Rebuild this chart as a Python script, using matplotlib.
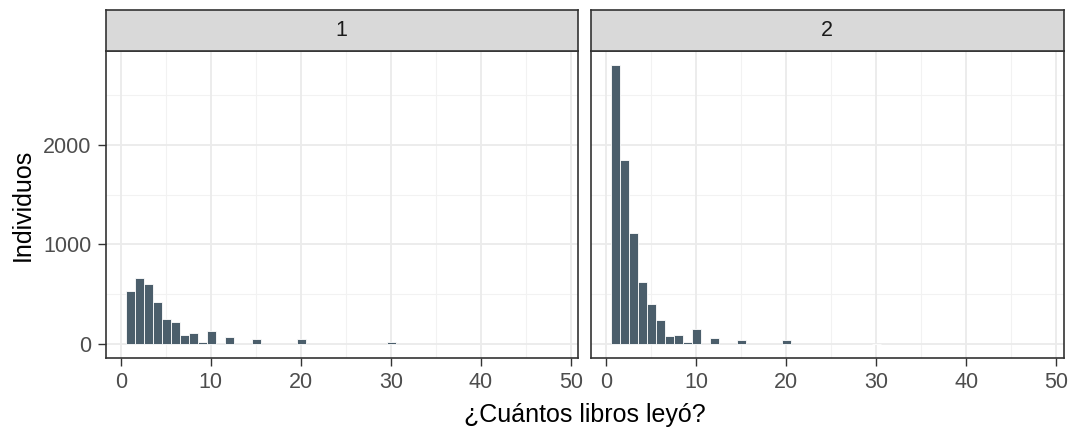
import matplotlib
matplotlib.use("Agg")
import matplotlib.pyplot as plt
import numpy as np

plt.rcParams['font.family'] = ['Liberation Sans', 'DejaVu Sans']

# 数据：每个面板的直方图计数（书的数量 -> 个体数）
libros = [1, 2, 3, 4, 5, 6, 7, 8, 9, 10, 12, 15, 20, 30]
grupo1 = [530, 660, 605, 420, 252, 218, 90, 112, 20, 128, 72, 55, 55, 22]
grupo2 = [2800, 1845, 1115, 625, 402, 238, 78, 95, 20, 148, 58, 38, 38, 0]
paneles = ['1', '2']
xticks = [0, 10, 20, 30, 40, 50]
yticks = [0, 1000, 2000]

bar_color = '#4B5E6B'
ymax = max(max(grupo1), max(grupo2))

fig = plt.figure(figsize=(10.73, 4.30), dpi=100)
W, H = 1073, 430
boxes = [(105.5, 578), (591, 1063.5)]
top, bottom, strip_top = 51, 358, 9.5

for i, (nombre, valores) in enumerate(zip(paneles, [grupo1, grupo2])):
    x0, x1 = boxes[i]
    ax = fig.add_axes([x0 / W, (H - bottom) / H, (x1 - x0) / W, (bottom - top) / H])
    ax.set_facecolor('white')
    # 网格线
    for v in [500, 1500, 2500]:
        ax.axhline(v, color='#F2F2F2', lw=0.8, zorder=0)
    for v in [5, 15, 25, 35, 45]:
        ax.axvline(v, color='#F2F2F2', lw=0.8, zorder=0)
    for v in yticks:
        ax.axhline(v, color='#EBEBEB', lw=1.3, zorder=0)
    for v in xticks:
        ax.axvline(v, color='#EBEBEB', lw=1.3, zorder=0)

    xs = np.array(libros) + 0.05
    ax.bar(xs, valores, width=0.98, color=bar_color, edgecolor='white',
           linewidth=0.6, zorder=2)

    ax.set_xlim(-1.7, 50.8)
    ax.set_ylim(-0.05 * ymax, 1.05 * ymax)
    ax.set_xticks(xticks)
    ax.set_yticks(yticks)
    ax.tick_params(axis='both', colors='#333333', labelcolor='#4D4D4D',
                   labelsize=15.5, length=5.5, width=1, pad=4.5)
    if i > 0:
        ax.tick_params(axis='y', left=False, labelleft=False)
    else:
        ax.set_ylabel('Individuos', fontsize=18, color='black', labelpad=6)
    for s in ax.spines.values():
        s.set_color('#333333')
        s.set_linewidth(1.2)

    # 分面标签条
    sax = fig.add_axes([x0 / W, (H - top) / H, (x1 - x0) / W, (top - strip_top) / H])
    sax.set_facecolor('#D9D9D9')
    sax.set_xticks([])
    sax.set_yticks([])
    for s in sax.spines.values():
        s.set_color('#333333')
        s.set_linewidth(1.2)
    sax.text(0.5, 0.5, nombre, ha='center', va='center', fontsize=15.5,
             color='#1A1A1A', transform=sax.transAxes)

fig.text((105.5 + 1063.5) / 2 / W, 15 / H, '¿Cuántos libros leyó?', ha='center',
         va='center', fontsize=18, color='black')

fig.savefig('out.png', dpi=100)
